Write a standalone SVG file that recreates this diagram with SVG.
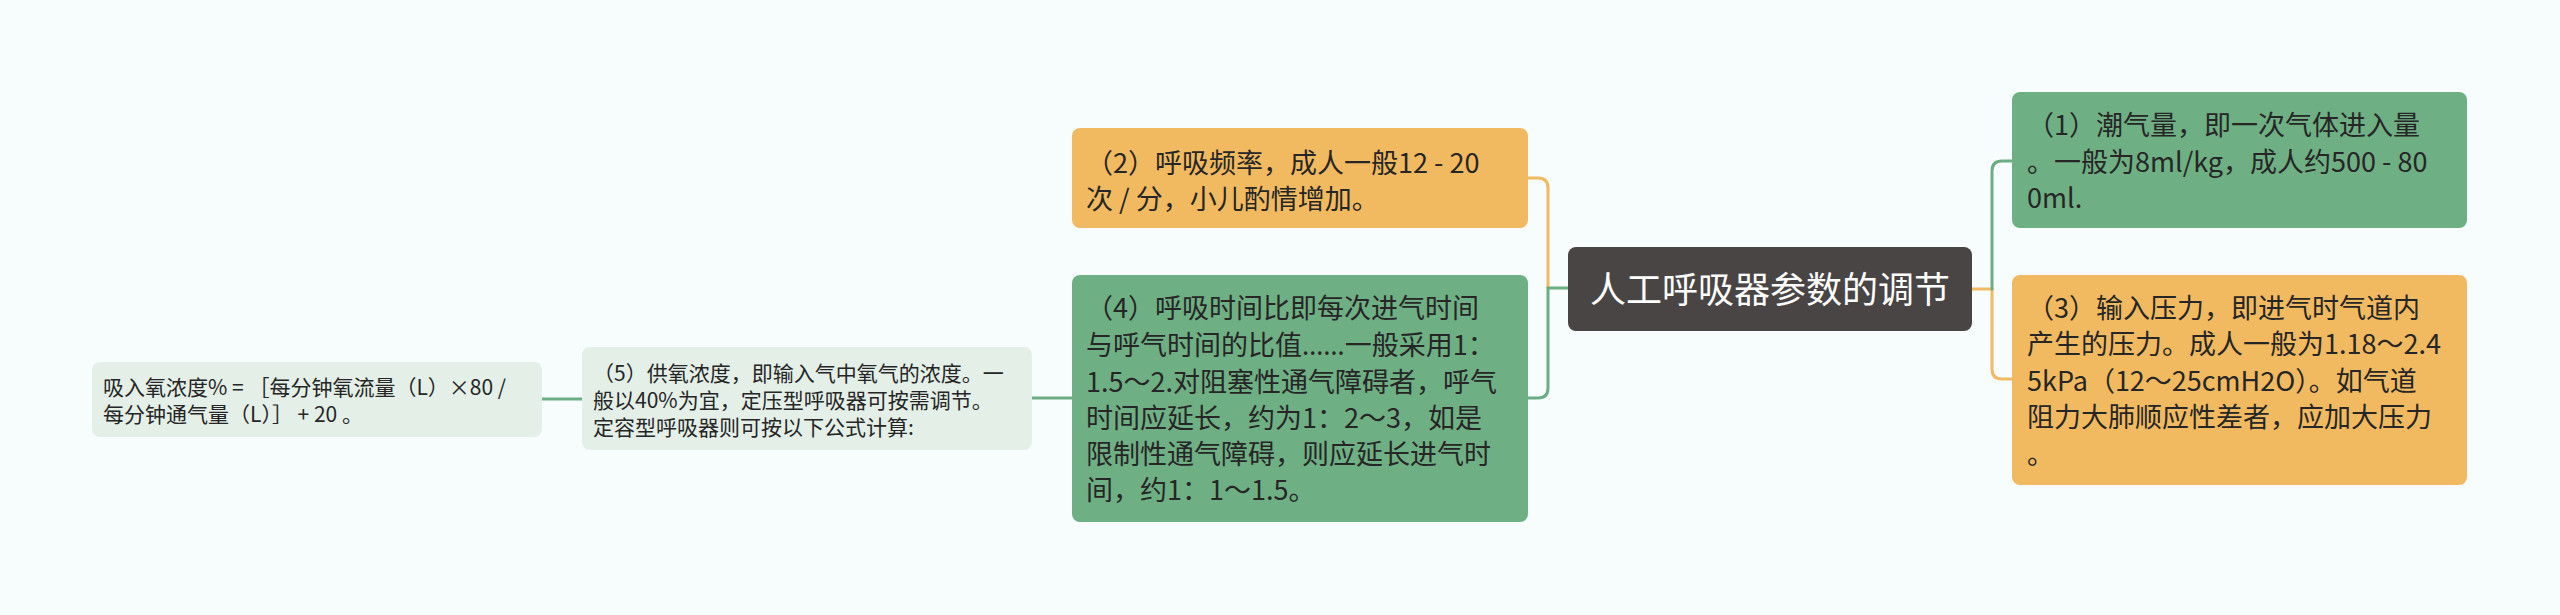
<svg xmlns="http://www.w3.org/2000/svg" width="2560" height="615" viewBox="0 0 2560 615">
<style>
.t{font-family:"Noto Sans CJK SC","Noto Sans",sans-serif;fill:#262626;}
.b{font-size:27px;}
.s{font-size:21px;}
.c{font-size:36px;fill:#ffffff;}
.el{font-family:"Noto Sans",sans-serif;}
.ln{fill:none;stroke-width:3;stroke-linecap:round;}
.og{stroke:#EFBA63;}
.gr{stroke:#6DAD84;}
</style>
<rect x="0" y="0" width="2560" height="615" fill="#F7FDFD"/>
<g id="connectors">
<path class="ln og" d="M1528,178 H1538 Q1548,178 1548,188 V288"/>
<path class="ln gr" d="M1568,288 H1548 V388 Q1548,398 1538,398 H1528"/>
<path class="ln gr" d="M1072,398 H1032"/>
<path class="ln gr" d="M582,399 H542"/>
<path class="ln og" d="M1972,289 H1992 V369 Q1992,379 2002,379 H2012"/>
<path class="ln gr" d="M1992,289 V171 Q1992,161 2002,161 H2012"/>
</g>
<g id="center">
<rect x="1568" y="247" width="404" height="84" rx="8" fill="#4A4545"/>
<text class="t c" x="1770" y="303" text-anchor="middle">人工呼吸器参数的调节</text>
</g>
<g id="n2">
<rect x="1072" y="128" width="456" height="100" rx="8" fill="#F1BA61"/>
<text class="t b" x="1086"><tspan x="1086" y="173">（2）呼吸频率，成人一般12 - 20</tspan><tspan x="1086" y="209">次 / 分，小儿酌情增加。</tspan></text>
</g>
<g id="n4">
<rect x="1072" y="275" width="456" height="247" rx="8" fill="#6FAF84"/>
<text class="t b" x="1086"><tspan x="1086" y="318">（4）呼吸时间比即每次进气时间</tspan><tspan x="1086" y="355">与呼气时间的比值<tspan class="el">……</tspan>一般采用1：</tspan><tspan x="1086" y="392">1.5～2.对阻塞性通气障碍者，呼气</tspan><tspan x="1086" y="428">时间应延长，约为1：2～3，如是</tspan><tspan x="1086" y="464">限制性通气障碍，则应延长进气时</tspan><tspan x="1086" y="500">间，约1：1～1.5。</tspan></text>
</g>
<g id="n5">
<rect x="582" y="347" width="450" height="103" rx="8" fill="#E3EFE7"/>
<text class="t s" x="593"><tspan x="593" y="381">（5）供氧浓度，即输入气中氧气的浓度。一</tspan><tspan x="593" y="408">般以40%为宜，定压型呼吸器可按需调节。</tspan><tspan x="593" y="435">定容型呼吸器则可按以下公式计算:</tspan></text>
</g>
<g id="n6">
<rect x="92" y="362" width="450" height="75" rx="8" fill="#E3EFE7"/>
<text class="t s" x="103"><tspan x="103" y="395">吸入氧浓度% = ［每分钟氧流量（L）×80 /</tspan><tspan x="103" y="422">每分钟通气量（L）］ + 20 。</tspan></text>
</g>
<g id="n1">
<rect x="2012" y="92" width="455" height="136" rx="8" fill="#6FAF84"/>
<text class="t b" x="2027"><tspan x="2027" y="135">（1）潮气量，即一次气体进入量</tspan><tspan x="2027" y="172">。一般为8ml/kg，成人约500 - 80</tspan><tspan x="2027" y="208">0ml.</tspan></text>
</g>
<g id="n3">
<rect x="2012" y="275" width="455" height="210" rx="8" fill="#F1BA61"/>
<text class="t b" x="2027"><tspan x="2027" y="318">（3）输入压力，即进气时气道内</tspan><tspan x="2027" y="354">产生的压力。成人一般为1.18～2.4</tspan><tspan x="2027" y="391">5kPa（12～25cmH2O）。如气道</tspan><tspan x="2027" y="427">阻力大肺顺应性差者，应加大压力</tspan><tspan x="2027" y="464">。</tspan></text>
</g>
</svg>
